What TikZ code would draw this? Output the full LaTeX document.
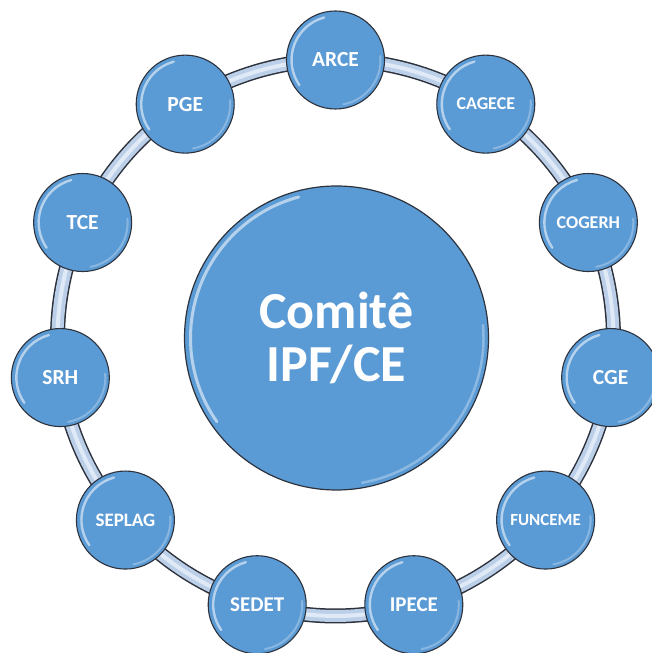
\documentclass[tikz,border=0pt]{standalone}
\usepackage{fontspec}
\setmainfont{Carlito}
\usetikzlibrary{backgrounds}
\definecolor{ballblue}{RGB}{91,155,213}
\definecolor{rimdark}{RGB}{45,50,60}
\definecolor{bandfill}{RGB}{188,207,233}
\definecolor{bandlight}{RGB}{224,233,246}
\begin{document}
\begin{tikzpicture}[x=1pt,y=1pt,
  ball/.style={circle,fill=ballblue,draw=rimdark,line width=1.1pt,
    minimum size=98pt,inner sep=0pt,text=white,
    font=\bfseries\fontsize{#1}{#1}\selectfont,
    path picture={
      \draw[white,opacity=0.55,line width=2.4pt,line cap=round]
        ([shift={(105:44pt)}]path picture bounding box.center)
        arc[start angle=105,end angle=215,radius=44pt];
      \draw[white,opacity=0.28,line width=2pt,line cap=round]
        ([shift={(-80:45pt)}]path picture bounding box.center)
        arc[start angle=-80,end angle=5,radius=45pt];
    }},
  bigball/.style={circle,fill=ballblue,draw=rimdark,line width=1.2pt,
    minimum size=304pt,inner sep=0pt,text=white,align=center,
    font=\bfseries\fontsize{52}{53}\selectfont,
    path picture={
      \draw[white,opacity=0.55,line width=3pt,line cap=round]
        ([shift={(105:146pt)}]path picture bounding box.center)
        arc[start angle=105,end angle=215,radius=146pt];
      \draw[white,opacity=0.3,line width=2.5pt,line cap=round]
        ([shift={(-80:147pt)}]path picture bounding box.center)
        arc[start angle=-80,end angle=5,radius=147pt];
    }},
  bandout/.style={draw=rimdark,line width=15pt},
  bandmid/.style={draw=bandfill,line width=12pt},
  bandhi/.style={draw=bandlight,line width=4pt}
]
\useasboundingbox (0,0) rectangle (652,653);

\node[bigball] (center) at (336.5,315) {Comitê\\IPF/CE};

\foreach \lab/\fs [count=\i] in {ARCE/21.5,CAGECE/18,COGERH/18,CGE/21.5,FUNCEME/17,IPECE/21,SEDET/21,SEPLAG/19,SRH/21.5,TCE/21.5,PGE/21.5} {
  \pgfmathsetmacro\ang{90-(\i-1)*360/11}
  \node[ball=\fs] (n\i) at ({335.5+278*cos(\ang)},{315+278*sin(\ang)}) {\lab};
}

\begin{scope}[on background layer]
  \fill[white] (0,0) rectangle (652,653);
  \foreach \i in {1,...,11} {
    \pgfmathtruncatemacro\j{mod(\i,11)+1}
    \draw[bandout] (n\i.center) to[bend left=16.36,looseness=0.87] (n\j.center);
  }
  \foreach \i in {1,...,11} {
    \pgfmathtruncatemacro\j{mod(\i,11)+1}
    \draw[bandmid] (n\i.center) to[bend left=16.36,looseness=0.87] (n\j.center);
  }
  \foreach \i in {1,...,11} {
    \pgfmathtruncatemacro\j{mod(\i,11)+1}
    \draw[bandhi] (n\i.center) to[bend left=16.36,looseness=0.87] (n\j.center);
  }
\end{scope}
\end{tikzpicture}
\end{document}
